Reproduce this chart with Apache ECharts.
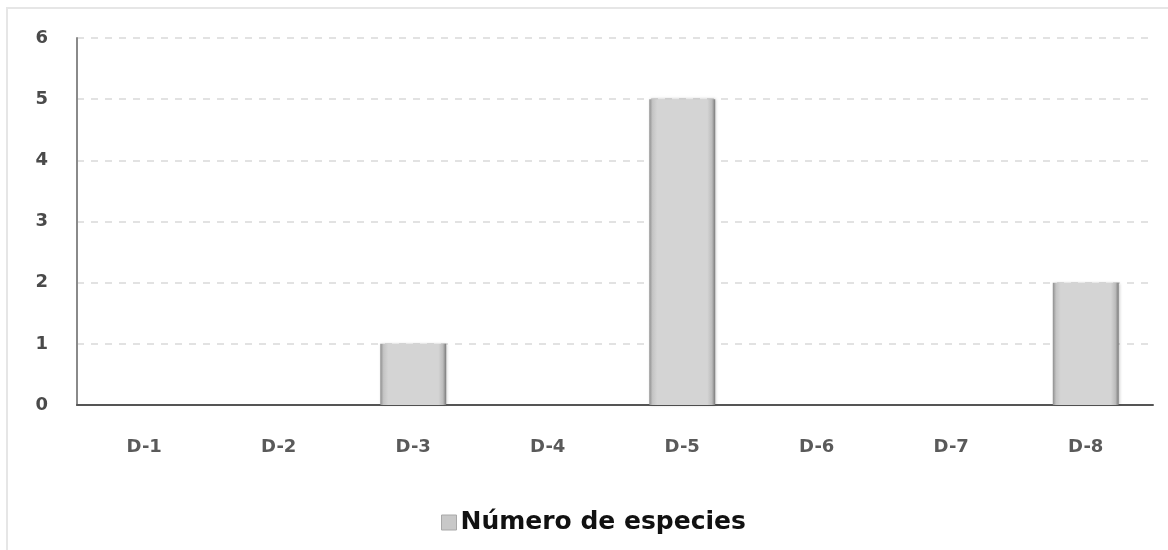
<!DOCTYPE html>
<html>
<head>
<meta charset="utf-8">
<script src="https://cdn.jsdelivr.net/npm/echarts@6/dist/echarts.min.js"></script>
<style>
  html, body { margin: 0; padding: 0; background: #ffffff; }
  #chart { width: 1168px; height: 550px; }
</style>
</head>
<body>
<div id="chart"></div>
<script>
// Species count per sampling site
const categories = ['D-1', 'D-2', 'D-3', 'D-4', 'D-5', 'D-6', 'D-7', 'D-8'];
const speciesCount = [0, 0, 1, 0, 5, 0, 0, 2];
const yTicks = [0, 1, 2, 3, 4, 5, 6];
const seriesName = 'Número de especies';

const labelFont = '"DejaVu Sans", Lato, sans-serif';

// Bevelled gray fill for the columns
const barFill = new echarts.graphic.LinearGradient(0, 0, 1, 0, [
  { offset: 0, color: '#8e8e8e' },
  { offset: 0.05, color: '#c4c4c4' },
  { offset: 0.12, color: '#d4d4d4' },
  { offset: 0.88, color: '#d4d4d4' },
  { offset: 0.95, color: '#bcbcbc' },
  { offset: 1, color: '#7a7a7a' }
]);

const chart = echarts.init(document.getElementById('chart'), null, { renderer: 'canvas' });

chart.setOption({
  backgroundColor: '#ffffff',
  animation: false,
  graphic: [{
    type: 'rect',
    shape: { x: 7, y: 8, width: 1180, height: 560 },
    style: { fill: 'none', stroke: '#e6e6e6', lineWidth: 2 },
    silent: true,
    z: -10
  }],
  grid: { left: 77, right: 15, top: 38, bottom: 145 },
  legend: {
    show: true,
    top: 505,
    left: 436,
    itemWidth: 15,
    itemHeight: 15,
    itemGap: 6,
    icon: 'rect',
    textStyle: { fontFamily: labelFont, fontWeight: 'bold', fontSize: 25, color: '#111111', padding: [0, 0, 0, -1] },
    data: [{ name: seriesName, itemStyle: { color: '#c8c8c8', borderColor: '#a8a8a8', borderWidth: 1 } }]
  },
  xAxis: {
    type: 'category',
    data: categories,
    axisLine: { show: true, lineStyle: { color: '#555555', width: 2 } },
    axisTick: { show: false },
    axisLabel: {
      margin: 33,
      fontFamily: labelFont,
      fontWeight: 'bold',
      fontSize: 18,
      color: '#5a5a5a'
    }
  },
  yAxis: {
    type: 'value',
    min: yTicks[0],
    max: yTicks[yTicks.length - 1],
    interval: 1,
    axisLine: { show: true, lineStyle: { color: '#8a8a8a', width: 2 } },
    axisTick: { show: false },
    axisLabel: {
      margin: 29,
      fontFamily: labelFont,
      fontWeight: 'bold',
      fontSize: 18,
      color: '#4a4a4a'
    },
    splitLine: { show: true, lineStyle: { color: '#e2e2e2', width: 2, type: [7, 7] } }
  },
  series: [{
    name: seriesName,
    type: 'bar',
    data: speciesCount,
    barWidth: '49%',
    itemStyle: {
      color: barFill,
      borderColor: '#9a9a9a',
      borderWidth: 0,
      shadowColor: 'rgba(0,0,0,0.25)',
      shadowBlur: 3,
      shadowOffsetX: 1
    }
  }]
});
</script>
</body>
</html>
